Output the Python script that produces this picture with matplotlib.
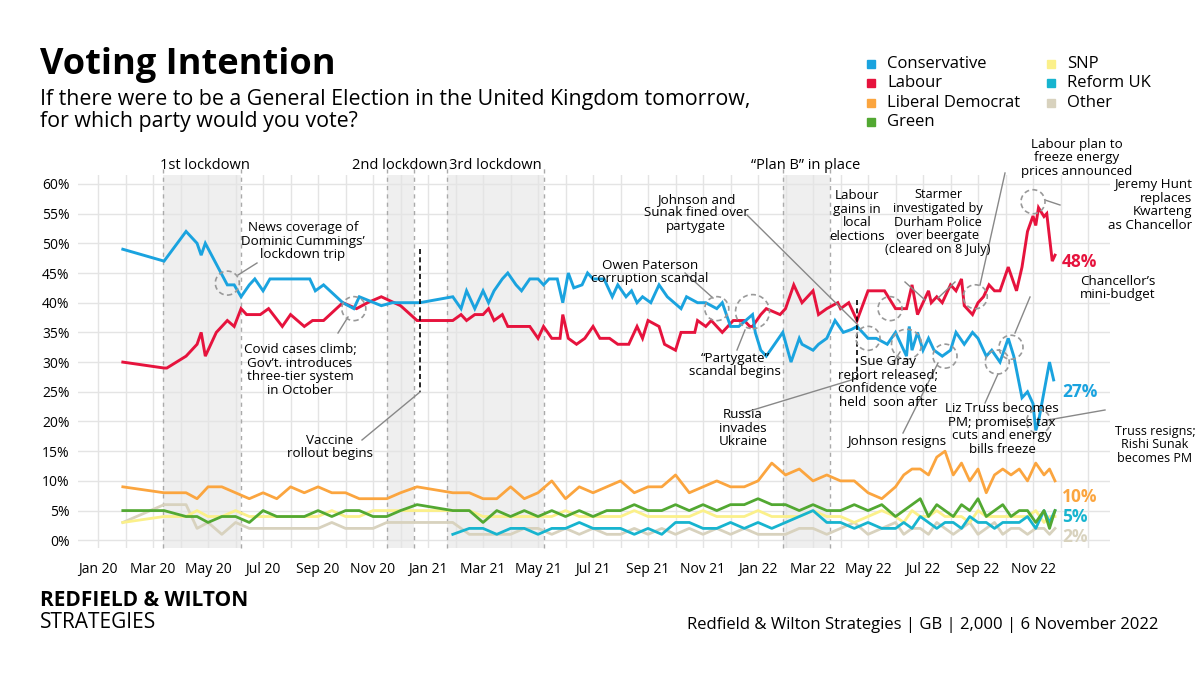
import matplotlib
matplotlib.use("Agg")
import matplotlib.pyplot as plt
from matplotlib.patches import Ellipse

plt.rcParams['font.family'] = ['Open Sans', 'DejaVu Sans']

# x = months since Jan 2020
con = [(0.9,49),(2.4,47),(3.2,52),(3.6,50),(3.75,48),(3.9,50),(4.7,43),(4.95,43),(5.2,41),(5.5,43),
       (5.7,44),(6.0,42),(6.25,44),(6.7,44),(7.4,44),(7.7,44),(7.9,42),(8.2,43),(8.9,40),(9.3,39),
       (9.5,41),(10.3,39.5),(10.7,40),(11.7,40),(12.9,41),(13.2,39),(13.4,42),(13.7,39),(14.0,42),
       (14.2,40),(14.4,42),(14.7,44),(14.9,45),(15.2,43),(15.4,42),(15.7,44),(16.0,44),(16.2,43),
       (16.4,44),(16.7,44),(16.9,40),(17.1,45),(17.3,42.5),(17.6,43),(17.8,45),(18.0,44),(18.25,44),
       (18.4,44),(18.7,41),(18.9,43),(19.2,41),(19.4,42),(19.6,40),(19.8,41),(20.1,40),(20.4,43),
       (20.7,41),(21.2,39),(21.4,41),(21.8,40),(22.1,40),(22.5,39),(22.7,40),(23.0,36),(23.3,36),
       (23.8,38),(23.9,35),(24.1,32),(24.3,31),(24.9,35),(25.2,30),(25.5,34),(25.6,33),(26.0,32),
       (26.2,33),(26.5,34),(26.8,37),(27.1,35),(27.4,35.5),(27.6,36),(28.0,34),(28.3,34),(28.7,33),
       (29.0,35),(29.2,33),(29.4,31),(29.5,36),(29.6,32),(29.8,35),(30.0,32),(30.2,34),(30.4,32),
       (30.7,31),(31.0,32),(31.2,35),(31.5,33),(31.8,35),(32.0,34),(32.3,31),(32.5,32),(32.8,30),
       (33.1,34),(33.3,31),(33.6,24),(33.8,25),(34.0,23),(34.1,18.5),(34.2,20),(34.6,30),(34.75,27)]
lab = [(0.9,30),(2.4,29),(2.5,29),(3.2,31),(3.6,33),(3.75,35),(3.9,31),(4.3,35),(4.7,37),(4.95,36),
       (5.2,39),(5.4,38),(5.9,38),(6.2,39),(6.7,36),(7.0,38),(7.5,36),(7.8,37),(8.2,37),(8.9,40),
       (9.4,39),(9.8,40),(10.3,41),(11.0,39.5),(11.6,37),(12.9,37),(13.2,38),(13.4,37),(13.7,38),
       (14.0,38),(14.2,39),(14.4,37),(14.7,38),(14.9,36),(15.7,36),(16.0,34),(16.2,36),(16.5,34),
       (16.8,34),(16.9,38),(17.1,34),(17.4,33),(17.7,34),(18.0,36),(18.25,34),(18.6,34),(18.9,33),
       (19.3,33),(19.6,36),(19.8,34),(20.0,37),(20.4,36),(20.6,33),(21.0,32),(21.2,35),(21.7,35),
       (21.8,37),(22.1,36),(22.3,37),(22.7,35),(23.1,37),(23.5,37),(23.7,36),(23.8,36),(24.1,38),
       (24.3,39),(24.8,38),(25.0,39),(25.3,43),(25.5,41),(25.6,40),(26.0,42),(26.2,38),(26.5,39),
       (26.9,40),(27.0,39),(27.3,40),(27.6,37),(28.0,42),(28.6,42),(29.0,39),(29.4,39),(29.6,43),
       (29.8,38),(30.0,40),(30.2,42),(30.3,40),(30.5,41),(30.7,40),(31.0,43),(31.2,42),(31.4,44),
       (31.5,39.5),(31.8,38),(32.0,40),(32.2,41),(32.4,43),(32.6,42),(32.8,42),(33.1,46),(33.4,42),
       (33.6,46),(33.8,52),(34.0,54.6),(34.1,53),(34.2,56),(34.4,54.5),(34.5,55),(34.6,51),
       (34.7,47),(34.8,48)]

sp_x = [0.9,2.4,3.2,3.6,4.0,4.5,5.0,5.5,6.0,6.5,7.0,7.5,8.0,8.5,9.0,9.5,10.0,10.5,11.0,11.6,
        12.9,13.5,14.0,14.5,15.0,15.5,16.0,16.5,17.0,17.5,18.0,18.5,19.0,19.5,20.0,20.5,21.0,21.5,
        22.0,22.5,23.0,23.5,24.0,24.5,25.0,25.5,26.0,26.5,27.0,27.5,28.0,28.5,29.0,
        29.3,29.6,29.9,30.2,30.5,30.8,31.1,31.4,31.7,32.0,32.3,32.6,32.9,33.2,33.5,33.8,34.1,34.4,
        34.6,34.8]
ld = [9,8,8,7,9,9,8,7,8,7, 9,8,9,8,8,7,7,7,8,9, 8,8,7,7,9,7,8,10,7,9, 8,9,10,8,9,9,11,8,9,10,
      9,9,10,13,11,12,10,11,10,10, 8,7,9,11,12,12,11,14,15,11, 13,10,12,8,11,12,11,12,10,13, 11,12,10]
green = [5,5,4,4,3,4,4,3,5,4, 4,4,5,4,5,5,4,4,5,6, 5,5,3,5,4,5,4,5,4,5, 4,5,5,6,5,5,6,5,6,5,
         6,6,7,6,6,5,6,5,5,6, 5,6,4,5,6,7,4,6,5,4, 6,5,7,4,5,6,4,5,5,3, 5,2,5]
snp = [3,4,4,5,4,4,5,4,4,4, 4,4,4,5,4,4,5,5,5,5, 5,5,4,4,4,4,4,4,5,4, 4,4,4,5,4,4,4,4,5,4,
       4,4,5,4,4,4,5,4,4,3, 4,5,4,3,5,4,4,5,4,4, 4,3,5,4,4,4,4,4,4,5, 3,4,4]
other = [3,6,6,2,3,1,3,2,2,2, 2,2,2,3,2,2,2,3,3,3, 3,1,1,1,1,2,2,1,2,1, 2,1,1,2,1,2,1,2,1,2,
         1,2,1,1,1,2,2,1,2,3, 1,2,3,1,2,2,1,3,2,1, 2,3,1,2,3,1,2,2,1,2, 2,1,2]
reform = [1,2,2,1,2,2,1,2,2,3, 2,2,2,1,2,1,3,3,2,2, 3,2,3,2,3,4,5,3,3,2, 3,2,2,3,2,4,3,2,3,3,
          2,4,3,3,2,3,3,3,4,2, 5,3,5]

tick_labels = ['Jan 20','Mar 20','May 20','Jul 20','Sep 20','Nov 20','Jan 21','Mar 21','May 21',
               'Jul 21','Sep 21','Nov 21','Jan 22','Mar 22','May 22','Jul 22','Sep 22','Nov 22']
y_ticks = [0,5,10,15,20,25,30,35,40,45,50,55,60]
periods = [(2.36,5.2,'1st lockdown'),(10.5,11.5,'2nd lockdown'),(12.7,16.2,'3rd lockdown'),
           (24.9,26.6,'“Plan B” in place')]

C = dict(con='#1aa3df', lab='#e6133d', ld='#fba53f', green='#52a832', snp='#fbf08a',
         reform='#17b4cf', other='#d8d2be')

W, H = 1200, 675
fig = plt.figure(figsize=(12, 6.75), dpi=100)
def P(px, py):
    return (px / W, 1 - py / H)

ax = fig.add_axes([78/W, 1-548/H, (1110-78)/W, (548-175)/H])
ax.set_xlim(-0.73, 36.8)
ax.set_ylim(-1.3, 61.5)
for s in ax.spines.values():
    s.set_visible(False)
ax.set_yticks(y_ticks)
ax.set_yticklabels([f'{v}%' for v in y_ticks], fontsize=10)
ax.set_xticks(range(0, 36, 2))
ax.set_xticklabels(tick_labels, fontsize=10)
ax.set_xticks(range(0, 37), minor=True)
ax.tick_params(length=0, which='both', pad=6)
ax.tick_params(axis='x', pad=10)
ax.grid(True, which='both', color='#e4e4e4', lw=1)
ax.set_axisbelow(True)

for a, b, lbl in periods:
    ax.axvspan(a, b, color='#efefef', zorder=0.5, lw=0)
    for v in (a, b):
        ax.axvline(v, color='#aaaaaa', ls=(0, (3, 3)), lw=1, ymax=1.02, clip_on=False, zorder=0.6)
sx = {'1st lockdown': 205, '2nd lockdown': 400, '3rd lockdown': 495, '“Plan B” in place': 806}
for a, b, lbl in periods:
    fig.text(*P(sx[lbl], 166), lbl, ha='center', va='center', fontsize=10.5)

def line(data, color, z, lw=2.1):
    xs = [d[0] for d in data]; ys = [d[1] for d in data]
    ax.plot(xs, ys, color=color, lw=lw, zorder=z, solid_joinstyle='miter')

ax.plot(sp_x, other, color=C['other'], lw=2, zorder=3)
ax.plot(sp_x, snp, color=C['snp'], lw=2, zorder=3.1)
ax.plot(sp_x[20:], reform, color=C['reform'], lw=2, zorder=3.2)
ax.plot(sp_x, green, color=C['green'], lw=2, zorder=3.3)
ax.plot(sp_x, ld, color=C['ld'], lw=2, zorder=3.4)
line(lab, C['lab'], 4)
line(con, C['con'], 4.1)

# event lines
ax.plot([11.7, 11.7], [49, 25], color='black', ls=(0, (3, 2)), lw=1.2, zorder=5)
ax.plot([27.6, 27.6], [40.5, 27], color='black', ls=(0, (3, 2)), lw=1.2, zorder=5)

# circles (month, %, radius px)
circles = [(4.7,43.3,12),(9.3,39,12),(22.5,39,12),(23.8,38.5,17),(28.0,34,12),(28.8,39,12),
           (29.4,33,15),(30.8,31,12),(31.9,41,12),(32.7,30,12),(33.2,32.5,12),(34.2,20,12),(34.0,57,12)]
ppx = (1110-78)/(36.8+0.73); ppy = (548-175)/(61.5+1.3)
for cx, cy, r in circles:
    ax.add_patch(Ellipse((cx, cy), 2*r/ppx, 2*r/ppy, fill=False, ec='#999999', ls=(0, (3, 2)),
                         lw=1.2, zorder=6))

def dpx(px, py):
    return ((px-78)/ppx - 0.73, (548-py)/ppy - 1.3)

conn = [((257,263),(238,275)),((338,333),(348,317)),((362,440),(420,392)),((685,273),(713,298)),
        ((747,215),(858,325)),((737,350),(745,330)),((743,413),(858,378)),((905,282),(925,300)),
        ((955,282),(938,298)),((893,363),(900,352)),((903,433),(938,363)),((985,403),(998,374)),
        ((1030,297),(1015,333)),((1005,173),(980,285)),((1060,205),(1045,200)),((1105,410),(1048,420))]
for (x1, y1), (x2, y2) in conn:
    a = dpx(x1, y1); b = dpx(x2, y2)
    ax.plot([a[0], b[0]], [a[1], b[1]], color='#888888', lw=1, zorder=5.5, clip_on=False)

FS = 9.6
notes = [((303,241),"News coverage of\nDominic Cummings’\nlockdown trip",'center', FS),
         ((300,370),"Covid cases climb;\nGov’t. introduces\nthree-tier system\nin October",'center', FS),
         ((330,447),"Vaccine\nrollout begins",'center', FS),
         ((650,272),"Owen Paterson\ncorruption scandal",'center', FS),
         ((696,213),"Johnson and\nSunak fined over\npartygate",'center', FS),
         ((735,365),"“Partygate”\nscandal begins",'center', FS),
         ((743,428),"Russia\ninvades\nUkraine",'center', FS),
         ((857,216),"Labour\ngains in\nlocal\nelections",'center', FS),
         ((938,222),"Starmer\ninvestigated by\nDurham Police\nover beergate\n(cleared on 8 July)",'center', 9.2),
         ((1077,158),"Labour plan to\nfreeze energy\nprices announced",'center', FS),
         ((1118,288),"Chancellor’s\nmini-budget",'center', FS),
         ((888,382),"Sue Gray\nreport released;\nconfidence vote\nheld  soon after",'center', FS),
         ((897,441),"Johnson resigns",'center', FS),
         ((1002,429),"Liz Truss becomes\nPM; promises tax\ncuts and energy\nbills freeze",'center', FS)]
for (x, y), t, ha, fs in notes:
    fig.text(*P(x, y), t, ha=ha, va='center', fontsize=fs, linespacing=1.05)
fig.text(*P(1192, 205), "Jeremy Hunt\nreplaces\nKwarteng\nas Chancellor", ha='right', va='center',
         fontsize=FS, linespacing=1.05)
fig.text(*P(1155, 445), "Truss resigns;\nRishi Sunak\nbecomes PM", ha='center', va='center',
         fontsize=9, linespacing=1.05)

ends = [(262,'48%',C['lab']),(392,'27%',C['con']),(497,'10%',C['ld']),(517,'5%',C['reform']),
        (537,'2%',C['other'])]
for y, t, c in ends:
    fig.text(*P(1062, y), t, color=c, fontsize=12.5, fontweight='bold', va='center')

# titles
fig.text(*P(40, 65), "Voting Intention", fontsize=26, fontweight='bold', va='center')
fig.text(*P(40, 100), "If there were to be a General Election in the United Kingdom tomorrow,",
         fontsize=15.4, va='center')
fig.text(*P(40, 122), "for which party would you vote?", fontsize=15.4, va='center')

legend = [(873,64,'Conservative','con'),(873,83,'Labour','lab'),(873,103,'Liberal Democrat','ld'),
          (873,122,'Green','green'),(1053,64,'SNP','snp'),(1053,83,'Reform UK','reform'),
          (1053,103,'Other','other')]
for x, y, t, k in legend:
    fig.patches.append(plt.Rectangle(P(x-6, y+4), 8/W, 8/H, color=C[k], transform=fig.transFigure))
    fig.text(*P(x+14, y), t, fontsize=12, va='center')

fig.text(*P(40, 600), "REDFIELD & WILTON", fontsize=15, fontweight='bold', va='center')
fig.text(*P(40, 622), "STRATEGIES", fontsize=15, va='center')
fig.text(*P(1158, 625), "Redfield & Wilton Strategies | GB | 2,000 | 6 November 2022",
         fontsize=12, ha='right', va='center')

fig.savefig('out.png', dpi=100)
